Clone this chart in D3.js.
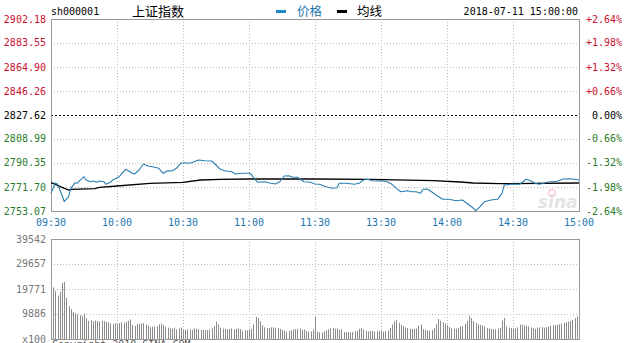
<!DOCTYPE html>
<html>
<head>
<meta charset="utf-8">
<script src="https://cdn.jsdelivr.net/npm/d3@7"></script>
<style>
  body { margin: 0; background: #fff; }
  svg { display: block; }
</style>
</head>
<body>
<div id="chart"></div>
<script>
// tick labels
var timeLabels = ["09:30", "10:00", "10:30", "11:00", "11:30", "13:30", "14:00", "14:30", "15:00"]
var priceTicks = [2902.18, 2883.55, 2864.90, 2846.26, 2827.62, 2808.99, 2790.35, 2771.70, 2753.07]
var pctTicks = ["+2.64%", "+1.98%", "+1.32%", "+0.66%", "0.00%", "-0.66%", "-1.32%", "-1.98%", "-2.64%"]
var volTicks = [39542, 29657, 19771, 9886]

// price line, [minute of session, price]
var price = [
  [0, 2767.04], [2, 2774.81], [3, 2773.80], [5, 2765.49], [6, 2760.29], [8, 2764.17], [9, 2770.69],
  [11, 2775.04], [12, 2774.57], [13, 2776.59], [15, 2779.70], [16, 2777.13], [18, 2775.81], [19, 2776.36],
  [21, 2775.35], [22, 2776.36], [24, 2775.81], [25, 2773.80], [27, 2775.35], [28, 2777.13], [31, 2779.70],
  [33, 2783.58], [34, 2785.44], [37, 2782.33], [38, 2781.79], [40, 2784.90], [42, 2789.55], [44, 2788.00],
  [46, 2787.46], [49, 2786.22], [51, 2782.33], [53, 2784.35], [55, 2784.12], [57, 2786.22], [59, 2790.10],
  [61, 2790.56], [63, 2790.10], [65, 2791.34], [67, 2792.66], [70, 2792.12], [73, 2791.88], [75, 2788.78],
  [77, 2785.44], [79, 2784.35], [82, 2783.58], [84, 2781.79], [87, 2782.33], [90, 2782.33], [91, 2781.56],
  [93, 2777.13], [94, 2775.35], [97, 2775.81], [100, 2774.57], [102, 2774.03], [104, 2775.81], [106, 2780.24],
  [108, 2780.47], [110, 2779.23], [112, 2779.23], [115, 2775.81], [118, 2775.35], [120, 2774.03],
  [122, 2773.80], [125, 2771.93], [128, 2770.69], [130, 2771.16], [131, 2774.57], [134, 2774.57], [136, 2774.26],
  [138, 2773.80], [140, 2774.57], [142, 2777.13], [144, 2777.68], [146, 2776.59], [149, 2776.36], [151, 2776.59],
  [153, 2775.58], [155, 2773.80], [157, 2770.69], [159, 2768.05], [162, 2768.83], [164, 2768.05], [166, 2768.05],
  [168, 2766.81], [169, 2769.92], [171, 2770.15], [173, 2768.05], [175, 2765.49], [178, 2762.15], [181, 2762.15],
  [184, 2761.07], [187, 2761.61], [189, 2759.05], [192, 2755.17], [193, 2753.20], [195, 2756.41], [197, 2760.29],
  [200, 2761.61], [203, 2762.15], [205, 2766.81], [206, 2773.25], [209, 2773.80], [213, 2773.80], [216, 2777.68],
  [218, 2776.59], [220, 2774.57], [222, 2773.80], [224, 2774.57], [226, 2775.58], [230, 2776.12], [233, 2777.91],
  [236, 2778.14], [238, 2777.68], [240, 2777.13]
]

// average line, [minute of session, price]
var avgPrice = [
  [0, 2775.04], [2, 2773.80], [5, 2771.47], [8, 2769.37], [9, 2769.92], [20, 2770.38], [22, 2771.47],
  [30, 2772.48], [45, 2774.57], [60, 2775.35], [68, 2777.13], [77, 2777.68], [90, 2777.91], [120, 2777.91],
  [145, 2777.68], [174, 2776.59], [186, 2775.58], [192, 2774.81], [204, 2774.26], [240, 2774.81]
]

// volume per minute (x100)
var volume = [
  22100, 20400, 18900, 17200, 18600, 22200, 22600, 16300, 13000, 11800,
  10600, 10200, 9700, 9400, 9100, 10000, 8200, 7200, 7400, 7000,
  7300, 7100, 6900, 7200, 7100, 6800, 6600, 6200, 6000, 6300,
  5900, 6200, 6600, 6400, 6900, 7200, 7700, 5600, 5200, 5900,
  6000, 6100, 6300, 5700, 5400, 4600, 4800, 4900, 5000, 5800,
  6100, 5600, 4900, 4500, 4300, 4000, 4400, 3800, 4200, 4500,
  3800, 3600, 3700, 3700, 3600, 4200, 4100, 3900, 3700, 3600,
  3500, 3600, 3800, 4300, 5100, 6900, 5800, 4500, 4100, 4000,
  3900, 4000, 4200, 3800, 4100, 4200, 3900, 3300, 3500, 3400,
  3600, 4100, 5800, 8700, 8300, 7000, 5400, 4600, 4300, 4400,
  4600, 4600, 4500, 4300, 4000, 3600, 3200, 3000, 3300, 3500,
  3800, 3900, 4000, 4100, 3600, 3800, 3200, 2900, 3000, 3800,
  8800, 2900, 2700, 2600, 3000, 3400, 3800, 4200, 4400, 4100,
  4300, 3700, 3900, 2800, 2600, 2700, 2600, 2800, 3000, 3300,
  4100, 4300, 3700, 3200, 3000, 3100, 3300, 3000, 3200, 3100,
  3300, 2900, 3100, 3400, 4300, 5800, 7000, 7400, 6400, 5600,
  5100, 4600, 4300, 4100, 4000, 3900, 4200, 5300, 5700, 3900,
  3500, 3400, 3300, 3500, 4200, 5800, 7900, 7200, 6700, 6100,
  5500, 4800, 4300, 4000, 4100, 4400, 4900, 5100, 5900, 7000,
  9200, 8300, 7100, 6300, 5800, 5600, 5300, 5000, 4400, 4200,
  4000, 3900, 3800, 4100, 4400, 7300, 8400, 5000, 4500, 4300,
  4100, 4200, 4600, 5700, 5600, 5400, 5200, 5000, 4600, 4300,
  4000, 4500, 4600, 4700, 4500, 4700, 4900, 5200, 5400, 5500,
  5700, 5800, 6000, 6300, 6600, 6800, 7100, 7600, 8200, 9000,
  11200
]

var width = 625, height = 343
var left = 51, right = 579
var mono = "'DejaVu Sans Mono', 'Liberation Mono', monospace"
var cjk = "'Noto Sans CJK SC', sans-serif"
var red = "#c8102e", green = "#2a7a2a", blue = "#1b75ae", gray = "#999"

var svg = d3.select("#chart")
  .append("svg")
    .attr("width", width)
    .attr("height", height)

var x = d3.scaleLinear().domain([0, 240]).range([left, right])
var y = d3.scaleLinear().domain([2753.07, 2902.18]).range([211, 19])
var yv = d3.scaleLinear().domain([0, 39542]).range([339, 239])

var timeIdx = timeLabels.map(function(d, i) { return i * 30 })

// ---- header
svg.append("text").attr("x", 51).attr("y", 15).attr("font-family", mono).attr("font-size", 10)
  .attr("fill", "#000").text("sh000001")
svg.append("text").attr("x", 132).attr("y", 16).attr("font-family", cjk).attr("font-size", 13)
  .attr("fill", "#000").text("上证指数")
svg.append("rect").attr("x", 276).attr("y", 10).attr("width", 10).attr("height", 3).attr("fill", "#1e88c8")
svg.append("text").attr("x", 297).attr("y", 16).attr("font-family", cjk).attr("font-size", 12.5)
  .attr("fill", blue).text("价格")
svg.append("rect").attr("x", 337).attr("y", 10).attr("width", 10).attr("height", 3).attr("fill", "#000")
svg.append("text").attr("x", 357).attr("y", 16).attr("font-family", cjk).attr("font-size", 12.5)
  .attr("fill", "#000").text("均线")
svg.append("text").attr("x", 578).attr("y", 15).attr("text-anchor", "end").attr("font-family", mono)
  .attr("font-size", 10).attr("fill", "#000").text("2018-07-11 15:00:00")

// ---- price panel grid
var grid = svg.append("g")
grid.selectAll("line.h")
  .data(priceTicks.slice(1, -1))
  .enter()
  .append("line")
    .attr("x1", left).attr("x2", right)
    .attr("y1", function(d) { return Math.round(y(d)) + 0.5 })
    .attr("y2", function(d) { return Math.round(y(d)) + 0.5 })
    .attr("stroke", function(d, i) { return i == 3 ? "#000" : "#bbb" })
    .attr("stroke-dasharray", function(d, i) { return i == 3 ? "2,2" : "1,2" })
grid.selectAll("line.v")
  .data(timeIdx.slice(1, -1))
  .enter()
  .append("line")
    .attr("x1", function(d) { return Math.round(x(d)) + 0.5 })
    .attr("x2", function(d) { return Math.round(x(d)) + 0.5 })
    .attr("y1", 19).attr("y2", 211)
    .attr("stroke", "#bbb")
    .attr("stroke-dasharray", "1,2")

// sina watermark
var wm = svg.append("g").attr("opacity", 0.5)
wm.append("text").attr("x", 538).attr("y", 208).attr("font-family", "'DejaVu Sans', sans-serif")
  .attr("font-size", 17).attr("font-style", "italic").attr("font-weight", "bold")
  .attr("fill", "#c9c9c9").text("sina")
wm.append("circle").attr("cx", 552).attr("cy", 193).attr("r", 3.5).attr("fill", "none")
  .attr("stroke", "#e8a0a0").attr("stroke-width", 1.5)

svg.append("rect").attr("x", left + 0.5).attr("y", 19.5).attr("width", right - left).attr("height", 192)
  .attr("fill", "none").attr("stroke", gray)

// ---- lines
var line = d3.line()
  .x(function(d) { return x(d[0]) })
  .y(function(d) { return y(d[1]) })

svg.append("path").datum(avgPrice)
  .attr("fill", "none").attr("stroke", "#000").attr("stroke-width", 1.3)
  .attr("d", line)
svg.append("path").datum(price)
  .attr("fill", "none").attr("stroke", "#2a7fb2").attr("stroke-width", 1.1)
  .attr("stroke-linejoin", "round")
  .attr("d", line)

// ---- price axis labels
function tickColor(i) { return i < 4 ? red : (i == 4 ? "#000" : green) }
svg.append("g").selectAll("text")
  .data(priceTicks)
  .enter()
  .append("text")
    .attr("x", 46)
    .attr("y", function(d) { return y(d) + 3.5 })
    .attr("text-anchor", "end")
    .attr("font-family", mono).attr("font-size", 10)
    .attr("fill", function(d, i) { return tickColor(i) })
    .text(function(d) { return d.toFixed(2) })
svg.append("g").selectAll("text")
  .data(pctTicks)
  .enter()
  .append("text")
    .attr("x", 622)
    .attr("y", function(d, i) { return y(priceTicks[i]) + 3.5 })
    .attr("text-anchor", "end")
    .attr("font-family", mono).attr("font-size", 10)
    .attr("fill", function(d, i) { return tickColor(i) })
    .text(function(d) { return d })

// time labels
svg.append("g").selectAll("text")
  .data(timeLabels)
  .enter()
  .append("text")
    .attr("x", function(d, i) { return x(timeIdx[i]) })
    .attr("y", 226)
    .attr("text-anchor", "middle")
    .attr("font-family", mono).attr("font-size", 10)
    .attr("fill", blue)
    .text(function(d) { return d })

// ---- volume panel
var vg = svg.append("g")
vg.selectAll("line.h")
  .data(volTicks.slice(1))
  .enter()
  .append("line")
    .attr("x1", left).attr("x2", right)
    .attr("y1", function(d) { return Math.round(yv(d)) + 0.5 })
    .attr("y2", function(d) { return Math.round(yv(d)) + 0.5 })
    .attr("stroke", "#bbb").attr("stroke-dasharray", "1,2")
vg.selectAll("line.v")
  .data(timeIdx.slice(1, -1))
  .enter()
  .append("line")
    .attr("x1", function(d) { return Math.round(x(d)) + 0.5 })
    .attr("x2", function(d) { return Math.round(x(d)) + 0.5 })
    .attr("y1", 239).attr("y2", 339)
    .attr("stroke", "#bbb").attr("stroke-dasharray", "1,2")

vg.selectAll("rect.bar")
  .data(volume)
  .enter()
  .append("rect")
    .attr("x", function(d, i) { return Math.round(x(i)) })
    .attr("y", function(d) { return yv(d) })
    .attr("width", 1)
    .attr("height", function(d) { return 339 - yv(d) })
    .attr("fill", "#8c8c8c")

svg.append("rect").attr("x", left + 0.5).attr("y", 239.5).attr("width", right - left).attr("height", 100)
  .attr("fill", "none").attr("stroke", gray)

svg.append("g").selectAll("text")
  .data(volTicks)
  .enter()
  .append("text")
    .attr("x", 46)
    .attr("y", function(d) { return yv(d) + 3.5 })
    .attr("text-anchor", "end")
    .attr("font-family", mono).attr("font-size", 10)
    .attr("fill", "#777")
    .text(function(d) { return d })
svg.append("text").attr("x", 46).attr("y", 343).attr("text-anchor", "end")
  .attr("font-family", mono).attr("font-size", 10).attr("fill", "#777").text("x100")

// copyright, cut by the bottom edge
svg.append("text").attr("x", 52).attr("y", 348).attr("font-family", mono).attr("font-size", 10)
  .attr("fill", "#555").text("Copyright 2018 SINA.COM")
</script>
</body>
</html>
